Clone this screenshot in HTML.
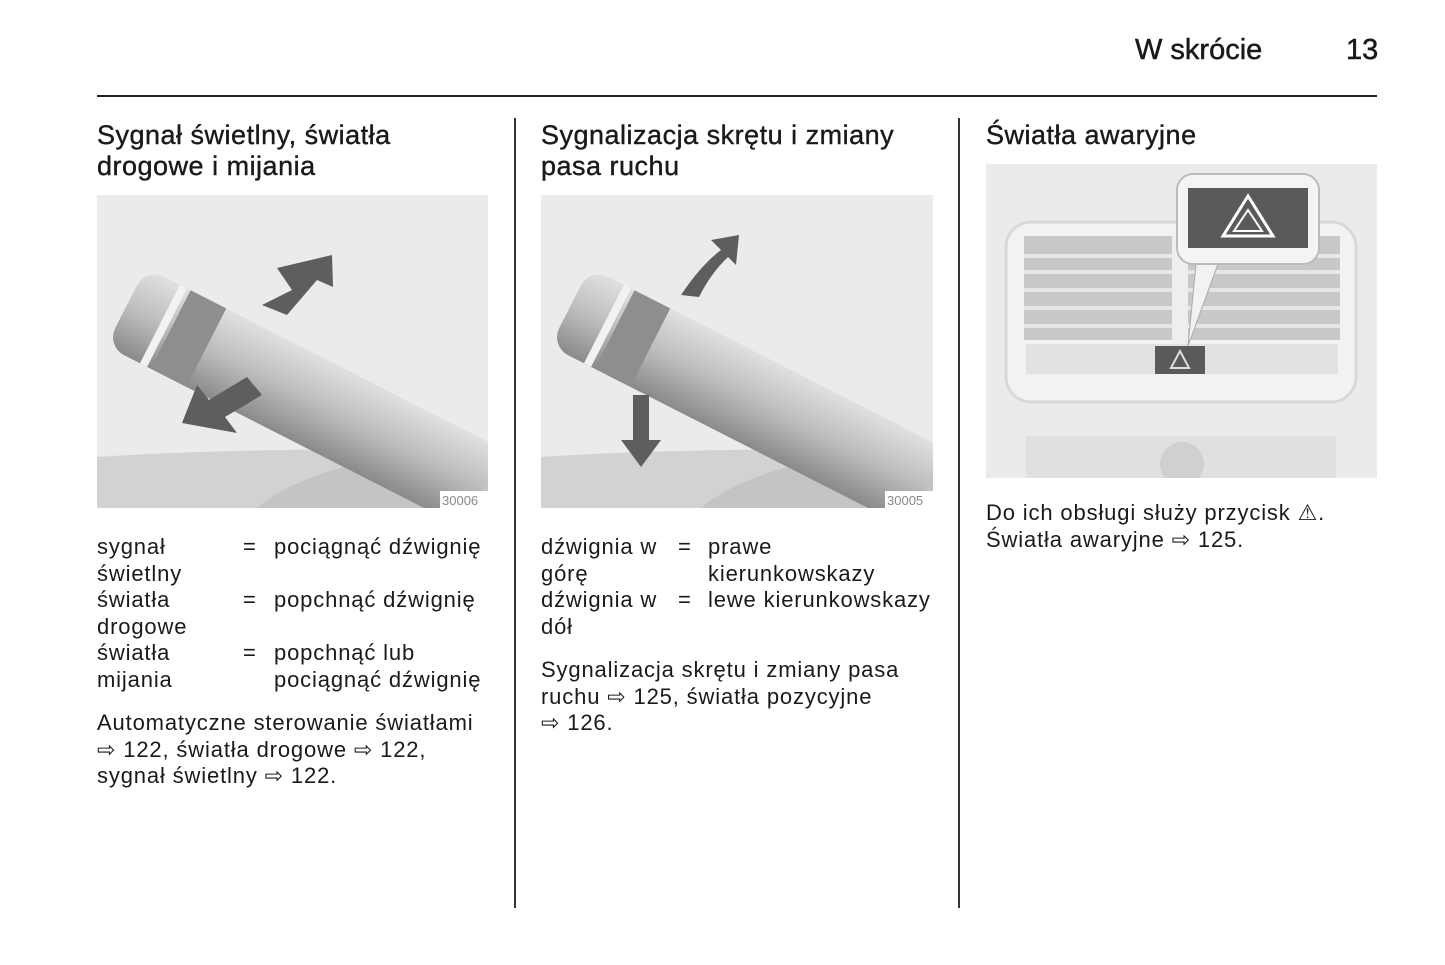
<!DOCTYPE html>
<html><head><meta charset="utf-8"><style>
body{margin:0;background:#fff;width:1445px;height:965px;position:relative;overflow:hidden;font-family:"Liberation Sans",Arial,sans-serif;color:#1a1a1a}
.a{position:absolute;white-space:nowrap}
.h{font-size:27px;line-height:31px;letter-spacing:0.5px;-webkit-text-stroke:0.4px #1a1a1a}
.t{font-size:22px;line-height:26.5px;letter-spacing:0.85px}
.img{position:absolute;background:#ebebeb;overflow:hidden}
</style></head><body>
<div class="a" style="left:1135px;top:34px;font-size:29px;-webkit-text-stroke:0.5px #1a1a1a">W skrócie</div>
<div class="a" style="left:1346px;top:34px;font-size:29px;-webkit-text-stroke:0.5px #1a1a1a">13</div>
<div class="a" style="left:97px;top:95px;width:1280px;height:2px;background:#222"></div>
<div class="a" style="left:514px;top:118px;width:2px;height:790px;background:#333"></div>
<div class="a" style="left:958px;top:118px;width:2px;height:790px;background:#333"></div>

<div class="a h" style="left:97px;top:120px">Sygnał świetlny, światła<br>drogowe i mijania</div>
<div class="a h" style="left:541px;top:120px">Sygnalizacja skrętu i zmiany<br>pasa ruchu</div>
<div class="a h" style="left:986px;top:120px">Światła awaryjne</div>

<!-- image 1 -->
<div class="img" style="left:97px;top:195px;width:391px;height:313px">
<svg width="391" height="313">
<defs><linearGradient id="g" x1="0" y1="0" x2="0" y2="1"><stop offset="0" stop-color="#e0e0e0"/><stop offset=".5" stop-color="#bdbdbd"/><stop offset="1" stop-color="#8a8a8a"/></linearGradient></defs>
<path d="M0 262 Q150 252 391 255 L391 313 L0 313Z" fill="#d2d2d2"/>
<path d="M160 313 Q220 262 391 250 L391 313Z" fill="#c4c4c4"/>
<g transform="translate(30,110) rotate(27)"><rect x="0" y="-42" width="400" height="88" rx="20" fill="url(#g)"/><rect x="50" y="-42" width="40" height="88" fill="#8e8e8e"/><rect x="38" y="-42" width="8" height="88" fill="#f2f2f2"/></g>
<polygon points="165,110 195,95 180,73 235,60 236,92 220,85 190,120" fill="#5e5e5e"/>
<polygon points="85,228 140,238 128,222 165,200 150,182 112,205 100,190" fill="#5e5e5e"/>
<rect x="343" y="296" width="48" height="17" fill="#fff"/><text x="345" y="310" font-size="13" fill="#888">30006</text>
</svg></div>

<!-- image 2 -->
<div class="img" style="left:541px;top:195px;width:392px;height:313px">
<svg width="392" height="313">
<defs><linearGradient id="g2" x1="0" y1="0" x2="0" y2="1"><stop offset="0" stop-color="#e0e0e0"/><stop offset=".5" stop-color="#bdbdbd"/><stop offset="1" stop-color="#8a8a8a"/></linearGradient></defs>
<path d="M0 262 Q150 252 392 255 L392 313 L0 313Z" fill="#d2d2d2"/>
<path d="M160 313 Q220 262 392 250 L392 313Z" fill="#c4c4c4"/>
<g transform="translate(30,110) rotate(27)"><rect x="0" y="-42" width="400" height="88" rx="20" fill="url(#g2)"/><rect x="50" y="-42" width="40" height="88" fill="#8e8e8e"/><rect x="38" y="-42" width="8" height="88" fill="#f2f2f2"/></g>
<path d="M140 100 Q160 70 180 55 L170 45 L198 40 L195 70 L187 62 Q170 78 158 102Z" fill="#5e5e5e"/>
<path d="M92 200 L92 245 L80 245 L100 272 L120 245 L108 245 L108 200Z" fill="#5e5e5e"/>
<rect x="344" y="296" width="48" height="17" fill="#fff"/><text x="346" y="310" font-size="13" fill="#888">30005</text>
</svg></div>

<!-- image 3 -->
<div class="img" style="left:986px;top:164px;width:391px;height:314px">
<svg width="391" height="314">
<rect x="20" y="58" width="350" height="180" rx="25" fill="#f2f2f2" stroke="#d8d8d8" stroke-width="3"/>
<rect x="38" y="72" width="316" height="104" fill="#c8c8c8"/>
<g fill="#e6e6e6"><rect x="38" y="90" width="316" height="4"/><rect x="38" y="106" width="316" height="4"/><rect x="38" y="124" width="316" height="4"/><rect x="38" y="142" width="316" height="4"/><rect x="38" y="160" width="316" height="4"/></g>
<rect x="186" y="72" width="16" height="110" fill="#eee"/>
<rect x="40" y="180" width="312" height="30" fill="#e2e2e2"/>
<rect x="169" y="182" width="50" height="28" fill="#5a5a5a"/>
<polygon points="194,187 185,204 203,204" fill="none" stroke="#ddd" stroke-width="2"/>
<polygon points="210,100 232,100 202,182" fill="#f2f2f2" stroke="#aaa"/>
<rect x="191" y="10" width="142" height="90" rx="16" fill="#f4f4f4" stroke="#bbb" stroke-width="2"/>
<rect x="202" y="24" width="120" height="60" fill="#5a5a5a"/>
<polygon points="262,32 237,72 287,72" fill="none" stroke="#fff" stroke-width="3"/>
<polygon points="262,46 248,67 276,67" fill="none" stroke="#fff" stroke-width="2"/>
<rect x="40" y="272" width="310" height="42" fill="#e0e0e0"/>
<circle cx="196" cy="300" r="22" fill="#d0d0d0"/>
</svg></div>

<div class="a t" style="left:97px;top:534px">sygnał<br>świetlny<br>światła<br>drogowe<br>światła<br>mijania</div>
<div class="a t" style="left:243px;top:534px">=<br><br>=<br><br>=</div>
<div class="a t" style="left:274px;top:534px">pociągnąć dźwignię<br><br>popchnąć dźwignię<br><br>popchnąć lub<br>pociągnąć dźwignię</div>
<div class="a t" style="left:97px;top:710px">Automatyczne sterowanie światłami<br>⇨ 122, światła drogowe ⇨ 122,<br>sygnał świetlny ⇨ 122.</div>

<div class="a t" style="left:541px;top:534px">dźwignia w<br>górę<br>dźwignia w<br>dół</div>
<div class="a t" style="left:678px;top:534px">=<br><br>=</div>
<div class="a t" style="left:708px;top:534px">prawe<br>kierunkowskazy<br>lewe kierunkowskazy</div>
<div class="a t" style="left:541px;top:657px">Sygnalizacja skrętu i zmiany pasa<br>ruchu ⇨ 125, światła pozycyjne<br>⇨ 126.</div>

<div class="a t" style="left:986px;top:500px">Do ich obsługi służy przycisk ⚠.<br>Światła awaryjne ⇨ 125.</div>
</body></html>
